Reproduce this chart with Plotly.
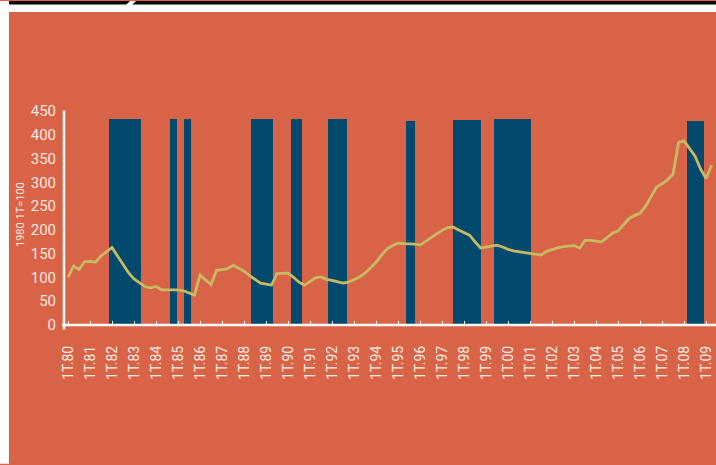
import plotly.graph_objects as go

# ---- data ----
year_labels = ["1T.%02d" % (y % 100) for y in range(1980, 2010)]
index_values = [100, 124, 117, 133, 134, 132, 145, 155, 163, 145,
                127, 110, 97, 89, 81, 78, 81, 74, 74, 74,
                74, 72, 67, 63, 105, 95, 85, 115, 116, 118,
                126, 120, 113, 104, 96, 88, 86, 84, 108, 109,
                109, 100, 90, 84, 92, 99, 101, 96, 94, 91,
                88, 90, 95, 101, 109, 120, 132, 147, 160, 167,
                172, 171, 171, 170, 168, 176, 184, 192, 199, 205,
                206, 200, 195, 189, 175, 162, 164, 166, 168, 164,
                159, 156, 154, 153, 151, 149, 147, 155, 159, 162,
                165, 166, 167, 162, 178, 178, 177, 175, 184, 193,
                198, 212, 224, 230, 235, 250, 270, 290, 297, 305,
                318, 384, 387, 372, 355, 328, 308, 336]
quarters = list(range(len(index_values)))

rec_start = [7.45, 18.5, 21.1, 33.3, 40.5, 47.3, 61.5, 70.0, 77.5, 112.5]
rec_end = [13.3, 19.8, 22.4, 37.3, 42.5, 50.7, 63.1, 75.1, 84.2, 115.6]
rec_height = [433, 433, 433, 433, 433, 433, 428, 432, 434, 428]

# ---- styling ----
W, H = 716, 465
L, R, T, B = 64, 0, 110.5, 139.5
ORANGE = "#D96346"
NAVY = "#014A6D"
LINE = "#C8B963"
TXT = "#FBEAE2"
FONT = "Roboto, sans-serif"

pw = W - L - R
ph = H - T - B


def px(x):
    return (x - L) / pw


def py(y):
    return 1 - (y - T) / ph


fig = go.Figure()
fig.add_trace(go.Bar(
    x=[(s + e) / 2 for s, e in zip(rec_start, rec_end)],
    y=rec_height,
    width=[e - s for s, e in zip(rec_start, rec_end)],
    marker=dict(color=NAVY, line=dict(width=0)),
    hoverinfo="skip", showlegend=False,
))
fig.add_trace(go.Scatter(
    x=quarters, y=index_values, mode="lines",
    line=dict(color=LINE, width=2.8),
    showlegend=False,
))

shapes = [
    dict(type="rect", xref="paper", yref="paper", x0=px(0), x1=px(9), y0=py(H), y1=py(0),
         fillcolor="white", line=dict(width=0), layer="above"),
    dict(type="rect", xref="paper", yref="paper", x0=px(0), x1=px(W), y0=py(11), y1=py(0),
         fillcolor="white", line=dict(width=0), layer="above"),
    dict(type="rect", xref="paper", yref="paper", x0=px(9), x1=px(W), y0=py(3.5), y1=py(0),
         fillcolor="black", line=dict(width=0), layer="above"),
    dict(type="path", xref="paper", yref="paper",
         path="M %f,%f L %f,%f L %f,%f L %f,%f Z" % (px(126), py(4), px(130), py(0),
                                                   px(136), py(0), px(132), py(4)),
         fillcolor="white", line=dict(width=0), layer="above"),
    dict(type="line", xref="paper", yref="paper", x0=px(62), x1=px(W), y0=py(325.5), y1=py(325.5),
         line=dict(color="white", width=2.5), layer="above"),
    dict(type="line", xref="paper", yref="paper", x0=px(64), x1=px(64), y0=py(110), y1=py(330),
         line=dict(color="white", width=2.5), layer="above"),
]

fig.update_layout(
    width=W, height=H,
    margin=dict(l=L, r=R, t=T, b=B),
    paper_bgcolor=ORANGE, plot_bgcolor=ORANGE,
    bargap=0,
    shapes=shapes,
    font=dict(family=FONT, color=TXT, size=13),
    xaxis=dict(
        range=[-0.73, 117.8], showgrid=False, zeroline=False, showline=False,
        tickmode="array", tickvals=list(range(0, 4 * len(year_labels), 4)), ticktext=year_labels,
        ticks="inside", ticklen=4, tickwidth=1, tickcolor="white",
        tickangle=-90, tickfont=dict(size=14, color=TXT, family=FONT),
        ticklabelstandoff=17,
    ),
    yaxis=dict(
        range=[0, 450], showgrid=False, zeroline=False, showline=False,
        tickmode="array", tickvals=list(range(0, 451, 50)),
        ticks="", tickfont=dict(size=15, color=TXT, family=FONT),
        ticklabelstandoff=7,
    ),
    annotations=[dict(
        text="1980 1T=100", xref="paper", yref="paper", x=px(20), y=py(215),
        showarrow=False, textangle=-90, font=dict(size=11, color=TXT, family=FONT),
        xanchor="center", yanchor="middle",
    )],
)

fig.write_html("out.html")
